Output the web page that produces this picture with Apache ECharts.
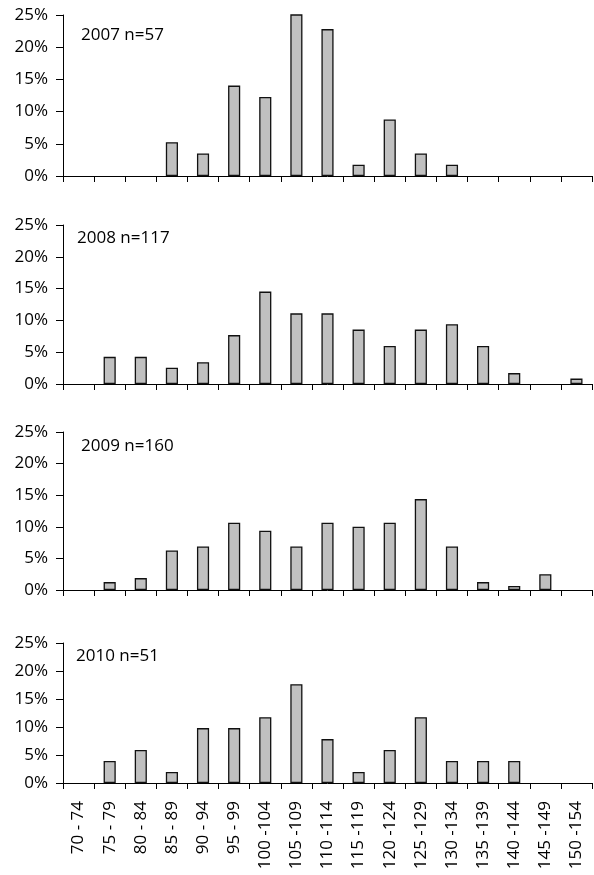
<!DOCTYPE html>
<html>
<head>
<meta charset="utf-8">
<script src="https://cdn.jsdelivr.net/npm/echarts@6/dist/echarts.min.js"></script>
<style>
html,body{margin:0;padding:0;background:#fff;}
#chart{width:594px;height:875px;}
</style>
</head>
<body>
<div id="chart"></div>
<script>
var categories = ["70 - 74","75 - 79","80 - 84","85 - 89","90 - 94","95 - 99","100 -104","105 -109","110 -114","115 -119","120 -124","125 -129","130 -134","135 -139","140 -144","145 -149","150 -154"];
var yTicks = [0, 5, 10, 15, 20, 25];
var panelLabels = ["2007 n=57", "2008 n=117", "2009 n=160", "2010 n=51"];
var values2007 = [0, 0, 0, 5.26, 3.51, 14.04, 12.28, 26.32, 22.81, 1.75, 8.77, 3.51, 1.75, 0, 0, 0, 0];
var values2008 = [0, 4.27, 4.27, 2.56, 3.42, 7.69, 14.53, 11.11, 11.11, 8.55, 5.98, 8.55, 9.40, 5.98, 1.71, 0, 0.85];
var values2009 = [0, 1.25, 1.88, 6.25, 6.88, 10.63, 9.38, 6.88, 10.63, 10.00, 10.63, 14.38, 6.88, 1.25, 0.63, 2.50, 0];
var values2010 = [0, 3.92, 5.88, 1.96, 9.80, 9.80, 11.76, 17.65, 7.84, 1.96, 5.88, 11.76, 3.92, 3.92, 3.92, 0, 0];

var allValues = [values2007, values2008, values2009, values2010];
var FONT = "Open Sans";
var grids = [
  {left: 63, right: 2, top: 15, height: 161},
  {left: 63, right: 2, top: 225, height: 159},
  {left: 63, right: 2, top: 432, height: 158},
  {left: 63, right: 2, top: 643, height: 140}
];
var labelPos = [
  {left: 81, top: 27},
  {left: 77, top: 230},
  {left: 81, top: 438},
  {left: 76, top: 648}
];

var xAxes = [], yAxes = [], series = [], titles = [];
for (var i = 0; i < 4; i++) {
  xAxes.push({
    type: 'category', gridIndex: i, data: categories, boundaryGap: true,
    axisLine: {show: true, lineStyle: {color: '#000', width: 1}},
    axisTick: {show: true, interval: 0, alignWithLabel: false, length: 6, lineStyle: {color: '#000'}},
    axisLabel: {show: i === 3, interval: 0, rotate: 90, margin: 18, fontFamily: FONT, fontSize: 17, color: '#000'}
  });
  yAxes.push({
    type: 'value', gridIndex: i, min: yTicks[0], max: yTicks[yTicks.length - 1], interval: 5,
    axisLine: {show: true, lineStyle: {color: '#000', width: 1}},
    axisTick: {show: true, length: 7, lineStyle: {color: '#000'}},
    splitLine: {show: false},
    axisLabel: {formatter: '{value}%', margin: 15, fontFamily: FONT, fontSize: 17, color: '#000'}
  });
  series.push({
    type: 'bar', xAxisIndex: i, yAxisIndex: i, barWidth: '39%', clip: true,
    data: allValues[i].map(function (v) {
      return v === 0 ? {value: v, itemStyle: {borderWidth: 0, opacity: 0}} : v;
    }),
    itemStyle: {color: '#c0c0c0', borderColor: '#111', borderWidth: 1.3},
    animation: false
  });
  titles.push({
    text: panelLabels[i], left: labelPos[i].left, top: labelPos[i].top,
    textStyle: {fontFamily: FONT, fontSize: 17, fontWeight: 'normal', color: '#000'}, padding: 0
  });
}

var chart = echarts.init(document.getElementById('chart'), null, {renderer: 'canvas'});
chart.setOption({
  animation: false,
  backgroundColor: '#fff',
  title: titles,
  grid: grids,
  xAxis: xAxes,
  yAxis: yAxes,
  series: series
});
</script>
</body>
</html>
